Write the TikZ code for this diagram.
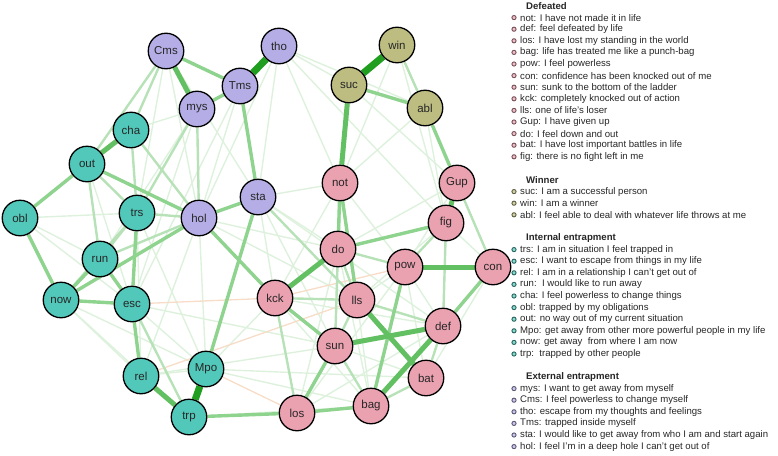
\documentclass[tikz,border=0pt]{standalone}
\usepackage{fontspec}
\setmainfont{Liberation Sans}
\usetikzlibrary{backgrounds}

\definecolor{defcol}{HTML}{EAA1B0}
\definecolor{wincol}{HTML}{BDBD82}
\definecolor{intcol}{HTML}{52C8BA}
\definecolor{extcol}{HTML}{B5AEE6}
\definecolor{gmax}{HTML}{1F9E1F}
\definecolor{gstrong}{HTML}{62C062}
\definecolor{gmid}{HTML}{8ED38E}
\definecolor{glight}{HTML}{B7E2B7}
\definecolor{gfaint}{HTML}{DDF1DD}
\definecolor{oneg}{HTML}{F7DDC8}

\begin{document}
\begin{tikzpicture}[x=1pt,y=-1pt,
  itemnode/.style={circle,draw=black,line width=1.3pt,minimum size=35.5pt,inner sep=0pt,
    font=\fontsize{11.5}{13}\selectfont,text=black!85},
  wfaint/.style={gfaint,line width=1.4pt},
  wlight/.style={glight,line width=2.4pt},
  wmid/.style={gmid,line width=3.4pt},
  wstrong/.style={gstrong,line width=5pt},
  wmax/.style={gmax,line width=7pt},
  wneg/.style={oneg,line width=1.3pt},
  legdot/.style={circle,line width=0.9pt,minimum size=4.2pt,inner sep=0pt},
  legtxt/.style={anchor=west,inner sep=0pt,text=black!85,font=\fontsize{9.6}{11}\selectfont},
  leghead/.style={legtxt,font=\fontsize{9.6}{11}\selectfont\bfseries}]
\useasboundingbox (0,0) rectangle (778,455);

% external entrapment
\node[itemnode,fill=extcol] (Cms) at (166,51) {Cms};
\node[itemnode,fill=extcol] (tho) at (279,46) {tho};
\node[itemnode,fill=extcol] (Tms) at (240,86) {Tms};
\node[itemnode,fill=extcol] (mys) at (197,109) {mys};
\node[itemnode,fill=extcol] (sta) at (258,197) {sta};
\node[itemnode,fill=extcol] (hol) at (199,218) {hol};
% winner
\node[itemnode,fill=wincol] (win) at (397,45) {win};
\node[itemnode,fill=wincol] (suc) at (349,85) {suc};
\node[itemnode,fill=wincol] (abl) at (425,108) {abl};
% internal entrapment
\node[itemnode,fill=intcol] (cha) at (131,130) {cha};
\node[itemnode,fill=intcol] (out) at (87,164) {out};
\node[itemnode,fill=intcol] (obl) at (20,218) {obl};
\node[itemnode,fill=intcol] (trs) at (137,213) {trs};
\node[itemnode,fill=intcol] (run) at (100,259) {run};
\node[itemnode,fill=intcol] (now) at (61,300) {now};
\node[itemnode,fill=intcol] (esc) at (132,304) {esc};
\node[itemnode,fill=intcol] (Mpo) at (206,369) {Mpo};
\node[itemnode,fill=intcol] (rel) at (141,376) {rel};
\node[itemnode,fill=intcol] (trp) at (189,417) {trp};
% defeated
\node[itemnode,fill=defcol] (not) at (340,183) {not};
\node[itemnode,fill=defcol] (Gup) at (457,183) {Gup};
\node[itemnode,fill=defcol] (fig) at (446,223) {fig};
\node[itemnode,fill=defcol] (do) at (338,249) {do};
\node[itemnode,fill=defcol] (pow) at (405,267) {pow};
\node[itemnode,fill=defcol] (con) at (493,267) {con};
\node[itemnode,fill=defcol] (kck) at (275,298) {kck};
\node[itemnode,fill=defcol] (lls) at (357,300) {lls};
\node[itemnode,fill=defcol] (def) at (443,326) {def};
\node[itemnode,fill=defcol] (sun) at (335,346) {sun};
\node[itemnode,fill=defcol] (bat) at (426,378) {bat};
\node[itemnode,fill=defcol] (los) at (297,413) {los};
\node[itemnode,fill=defcol] (bag) at (371,406) {bag};

% edges, weakest first
\begin{scope}[on background layer]
  \foreach \a/\b in {tho/sta,tho/hol,tho/fig,tho/suc,tho/not,Cms/hol,Cms/trs,Cms/sta,
    mys/esc,mys/run,Tms/hol,Tms/esc,Tms/kck,win/Gup,win/fig,win/not,suc/do,suc/Gup,
    abl/fig,abl/con,abl/not,not/kck,not/pow,not/sun,Gup/pow,Gup/do,fig/lls,fig/con,
    sta/do,sta/not,sta/sun,sta/def,hol/lls,hol/do,hol/Mpo,hol/rel,obl/trs,obl/run,
    obl/esc,obl/cha,cha/mys,now/rel,now/Mpo,now/trp,esc/Mpo,esc/sun,rel/Mpo,rel/sun,
    trs/rel,trs/Mpo,Mpo/bag,Mpo/bat,trp/bag,kck/def,kck/bag,kck/Mpo,lls/pow,lls/bag,
    sun/bat,los/def,los/pow,los/do,bag/do,pow/def,pow/bat,con/bat,tho/abl,out/esc}
    \draw[wfaint] (\a) -- (\b);
  \foreach \a/\b in {esc/kck,rel/lls,Mpo/los,kck/pow}
    \draw[wneg] (\a) -- (\b);
  \foreach \a/\b in {Cms/cha,Cms/out,mys/hol,mys/trs,win/abl,Gup/con,fig/def,fig/pow,
    do/lls,do/sun,do/pow,kck/lls,bag/bat,bat/def,esc/trp,run/trs,out/trs,out/run,
    hol/trs,sta/lls,lls/def,lls/sun,sun/bag,hol/run,cha/trs,cha/hol,now/trs,kck/los}
    \draw[wlight] (\a) -- (\b);
  \foreach \a/\b in {Cms/Tms,mys/Tms,Tms/sta,hol/sta,hol/kck,hol/out,hol/now,out/obl,
    obl/now,now/esc,now/run,run/esc,trs/esc,abl/Gup,con/def,kck/sun,not/do,not/lls,
    sun/los,los/bag,pow/bag,suc/abl,Mpo/sta,trp/los,esc/rel,do/fig}
    \draw[wmid] (\a) -- (\b);
  \foreach \a/\b in {Cms/mys,rel/trp,out/cha,pow/con,kck/do,lls/bat,def/sun,def/bag,
    suc/not,Gup/fig}
    \draw[wstrong] (\a) -- (\b);
  \foreach \a/\b in {win/suc,Mpo/trp,Tms/tho}
    \draw[wmax] (\a) -- (\b);
\end{scope}

% legend
\node[leghead] (hdef) at (526,6) {Defeated};
\foreach \txt [count=\i] in {not: I have not made it in life,def: feel defeated by life,
  los: I have lost my standing in the world,bag: life has treated me like a punch-bag,
  pow: I feel powerless,con: confidence has been knocked out of me,
  sun: sunk to the bottom of the ladder,kck: completely knocked out of action,
  lls: one of life's loser,Gup: I have given up,do: I feel down and out,
  bat: I have lost important battles in life,fig: there is no fight left in me}{
  \node[legdot,fill=defcol!70,draw=defcol!50!black] (ddot\i) at (514,{6+11.6*\i}) {};
  \node[legtxt] (dtxt\i) at (520,{6+11.6*\i}) {\txt};
}
\node[leghead] (hwin) at (526,180) {Winner};
\foreach \txt [count=\i] in {suc: I am a successful person,win: I am a winner,
  abl: I feel able to deal with whatever life throws at me}{
  \node[legdot,fill=wincol!70,draw=wincol!50!black] (wdot\i) at (514,{180+11.6*\i}) {};
  \node[legtxt] (wtxt\i) at (520,{180+11.6*\i}) {\txt};
}
\node[leghead] (hint) at (526,238) {Internal entrapment};
\foreach \txt [count=\i] in {trs: I am in situation I feel trapped in,
  esc: I want to escape from things in my life,
  rel: I am in a relationship I can't get out of,run:\ \ I would like to run away,
  cha: I feel powerless to change things,obl: trapped by my obligations,
  out: no way out of my current situation,
  Mpo: get away from other more powerful people in my life,
  now: get away\ \ from where I am now,trp:\ \ trapped by other people}{
  \node[legdot,fill=intcol!70,draw=intcol!50!black] (idot\i) at (514,{238+11.6*\i}) {};
  \node[legtxt] (itxt\i) at (520,{238+11.6*\i}) {\txt};
}
\node[leghead] (hext) at (526,377) {External entrapment};
\foreach \txt [count=\i] in {mys: I want to get away from myself,
  Cms: I feel powerless to change myself,tho: escape from my thoughts and feelings,
  Tms: trapped inside myself,sta: I would like to get away from who I am and start again,
  hol: I feel I'm in a deep hole I can't get out of}{
  \node[legdot,fill=extcol!70,draw=extcol!50!black] (edot\i) at (514,{377+11.6*\i}) {};
  \node[legtxt] (etxt\i) at (520,{377+11.6*\i}) {\txt};
}
\end{tikzpicture}
\end{document}
